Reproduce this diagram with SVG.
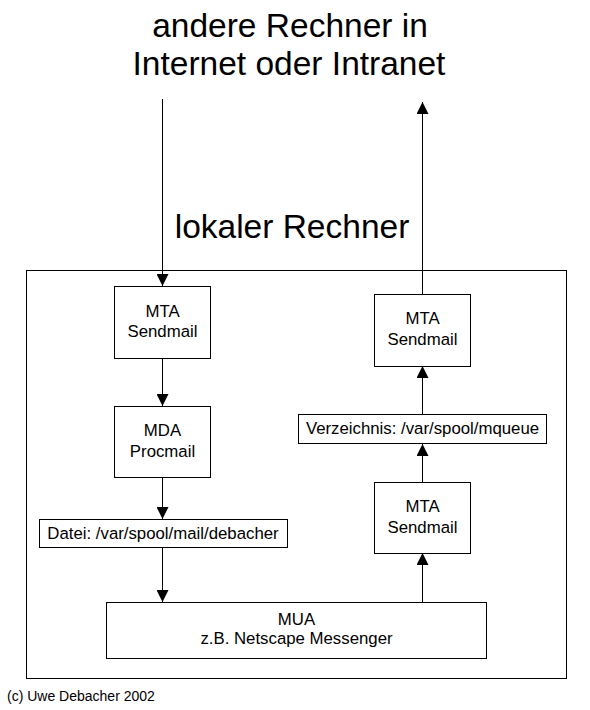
<svg xmlns="http://www.w3.org/2000/svg" width="590" height="710" viewBox="0 0 590 710">
<style>
.box{fill:#fff;stroke:#000;stroke-width:1}
.t{font-family:"Liberation Sans",Arial,sans-serif;font-size:16.8px;fill:#000;text-anchor:middle}
.big{font-family:"Liberation Sans",Arial,sans-serif;font-size:33.5px;fill:#000;text-anchor:middle}
.c{stroke:#000;stroke-width:1;fill:none}
</style>
<defs>
<marker id="ah" markerUnits="userSpaceOnUse" markerWidth="12" markerHeight="12" refX="12" refY="6" orient="auto">
<path d="M0,0 L12,6 L0,12 z" fill="#000"/>
</marker>
</defs>
<rect width="590" height="710" fill="#fff"/>
<g id="title">
<text class="big" x="290" y="37">andere Rechner in</text>
<text class="big" x="289" y="75">Internet oder Intranet</text>
</g>
<g id="local">
<rect class="box" x="26.5" y="270.5" width="540" height="408"/>
<text class="big" x="292" y="238">lokaler Rechner</text>
</g>
<g id="connectors">
<line class="c" x1="162.5" y1="99" x2="162.5" y2="286" marker-end="url(#ah)"/>
<line class="c" x1="162.5" y1="358" x2="162.5" y2="406" marker-end="url(#ah)"/>
<line class="c" x1="162.5" y1="477" x2="162.5" y2="519" marker-end="url(#ah)"/>
<line class="c" x1="162.5" y1="547" x2="162.5" y2="602" marker-end="url(#ah)"/>
<line class="c" x1="422.5" y1="602" x2="422.5" y2="553" marker-end="url(#ah)"/>
<line class="c" x1="422.5" y1="482" x2="422.5" y2="444" marker-end="url(#ah)"/>
<line class="c" x1="422.5" y1="414" x2="422.5" y2="366" marker-end="url(#ah)"/>
<line class="c" x1="422.5" y1="294" x2="422.5" y2="102" marker-end="url(#ah)"/>
</g>
<g id="mta-in">
<rect class="box" x="114.5" y="286.5" width="96" height="72"/>
<text class="t" x="162.5" y="317">MTA</text>
<text class="t" x="162.5" y="337">Sendmail</text>
</g>
<g id="mda">
<rect class="box" x="114.5" y="406.5" width="96" height="71"/>
<text class="t" x="162.5" y="436">MDA</text>
<text class="t" x="162.5" y="457">Procmail</text>
</g>
<g id="datei">
<rect class="box" x="39.5" y="519.5" width="248" height="28"/>
<text class="t" x="163" y="539">Datei: /var/spool/mail/debacher</text>
</g>
<g id="mua">
<rect class="box" x="106.5" y="602.5" width="380" height="56"/>
<text class="t" x="296.5" y="625">MUA</text>
<text class="t" x="296.5" y="644">z.B. Netscape Messenger</text>
</g>
<g id="mta-out1">
<rect class="box" x="374.5" y="482.5" width="96" height="71"/>
<text class="t" x="422.5" y="512">MTA</text>
<text class="t" x="422.5" y="533">Sendmail</text>
</g>
<g id="verzeichnis">
<rect class="box" x="298.5" y="414.5" width="248" height="29"/>
<text class="t" x="422.5" y="434">Verzeichnis: /var/spool/mqueue</text>
</g>
<g id="mta-out2">
<rect class="box" x="374.5" y="294.5" width="96" height="72"/>
<text class="t" x="422.5" y="324">MTA</text>
<text class="t" x="422.5" y="345">Sendmail</text>
</g>
<g id="copyright">
<text x="7" y="701" font-family="'Liberation Sans',Arial,sans-serif" font-size="14" fill="#000">(c) Uwe Debacher 2002</text>
</g>
</svg>
